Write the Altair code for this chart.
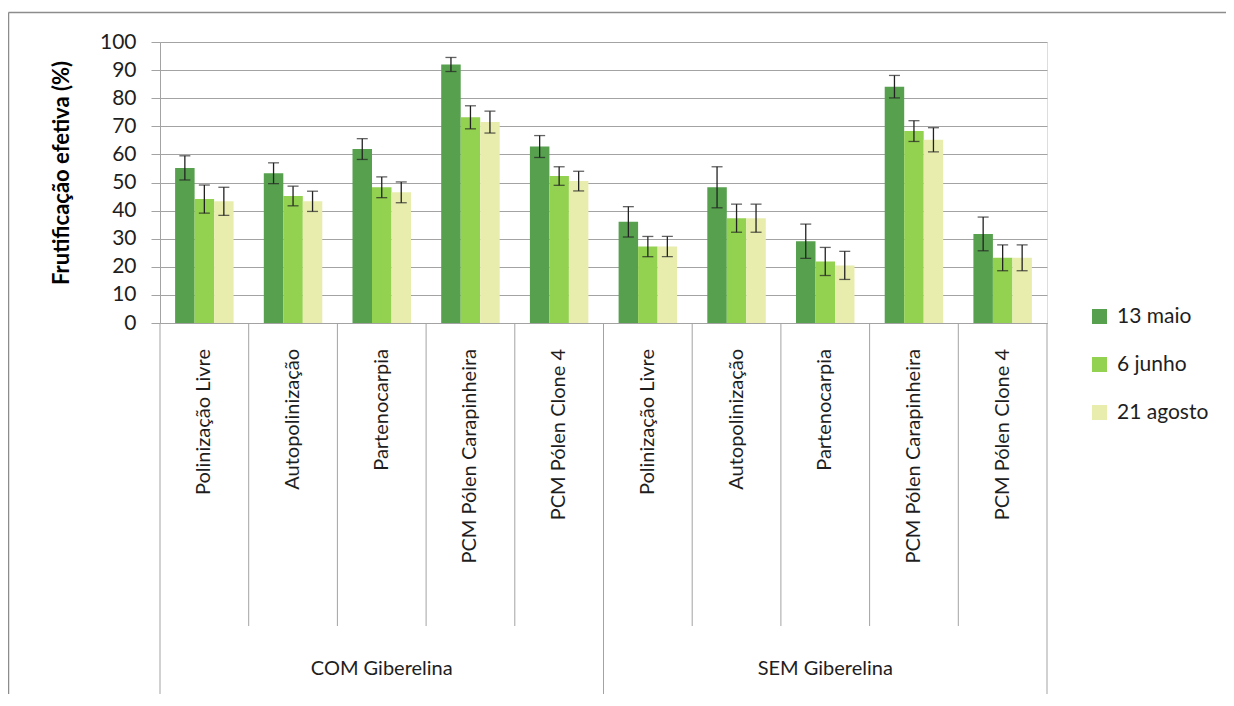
import altair as alt
import pandas as pd

# ---- data ----
grupos = ["COM Giberelina"] * 5 + ["SEM Giberelina"] * 5
tratamentos = ["Polinização Livre", "Autopolinização", "Partenocarpia",
               "PCM Pólen Carapinheira", "PCM Pólen Clone 4"] * 2
series = ["13 maio", "6 junho", "21 agosto"]
maio = [55.2, 53.3, 61.9, 92.0, 62.8, 36.0, 48.3, 29.1, 84.1, 31.7]
junho = [44.1, 45.2, 48.3, 73.2, 52.3, 27.2, 37.3, 21.9, 68.3, 23.2]
agosto = [43.3, 43.3, 46.5, 71.5, 50.5, 27.2, 37.3, 20.5, 65.2, 23.2]
err_maio = [4.3, 3.7, 3.7, 2.5, 3.9, 5.4, 7.3, 6.1, 4.0, 6.0]
err_junho = [5.0, 3.5, 3.7, 4.1, 3.3, 3.6, 5.0, 5.0, 3.7, 4.6]
err_agosto = [5.0, 3.6, 3.7, 3.9, 3.5, 3.6, 5.0, 5.0, 4.3, 4.6]
yticks = list(range(0, 101, 10))
cores = ["#56A04E", "#93D150", "#E8EDAE"]

FONT = "Lato"
GRID = "#A3A3A3"
TXT = "#1e1e1e"

keys = [g + "|" + t for g, t in zip(grupos, tratamentos)]

rows = []
for s, vals, errs in zip(series, [maio, junho, agosto], [err_maio, err_junho, err_agosto]):
    for k, g, t, v, e in zip(keys, grupos, tratamentos, vals, errs):
        rows.append({"key": k, "grupo": g, "trat": t, "serie": s, "valor": v,
                     "lo": v - e, "hi": v + e})
df = pd.DataFrame(rows)
cats = pd.DataFrame({"key": keys, "grupo": grupos, "trat": tratamentos})

W, H = 887, 281
PAD = {"left": 152, "top": 34, "right": 179, "bottom": 371}

xscale = alt.Scale(domain=keys, paddingInner=0, paddingOuter=0)
xaxis = alt.Axis(labels=False, ticks=False, title=None, domainColor=GRID, domainWidth=1)
xoff = alt.XOffset("serie:N", scale=alt.Scale(domain=series, paddingInner=0, paddingOuter=0.775))
X = alt.X("key:N", scale=xscale, axis=xaxis)
yscale = alt.Scale(domain=[0, 100], nice=False)
yaxis = alt.Axis(values=yticks, title=None, grid=True, labelOverlap=False,
                 gridColor=GRID, gridWidth=1, domainColor=GRID, tickColor=GRID,
                 tickSize=9, labelPadding=15, labelFontSize=21, labelFont=FONT,
                 labelColor=TXT)

bars = alt.Chart(df).mark_bar().encode(
    x=X,
    xOffset=xoff,
    y=alt.Y("valor:Q", scale=yscale, axis=yaxis),
    color=alt.Color("serie:N", scale=alt.Scale(domain=series, range=cores),
                    legend=alt.Legend(title=None, orient="none", legendX=929, legendY=264,
                                      symbolType="square", symbolSize=225, symbolStrokeWidth=0,
                                      labelFontSize=21, labelFont=FONT, labelColor=TXT,
                                      rowPadding=26, labelOffset=7)),
)

err = alt.Chart(df).mark_rule(color="#222222", strokeWidth=1.3).encode(
    x=X, xOffset=xoff,
    y=alt.Y("lo:Q", scale=yscale, axis=yaxis), y2="hi:Q",
)

caps = alt.Chart(df).transform_fold(["lo", "hi"], as_=["lado", "v"]).mark_tick(
    color="#222222", thickness=1.3, size=11, orient="horizontal"
).encode(
    x=X, xOffset=xoff,
    y=alt.Y("v:Q", scale=yscale, axis=yaxis),
)

labels = alt.Chart(cats).mark_text(
    angle=270, align="right", baseline="middle", fontSize=20, font=FONT, color=TXT
).encode(
    x=X,
    y=alt.value(307),
    text="trat:N",
)

inner = cats[cats["trat"] != tratamentos[0]]
sep_inner = alt.Chart(inner).mark_rule(color=GRID, strokeWidth=1).encode(
    x=alt.X("key:N", scale=xscale, axis=xaxis, bandPosition=0),
    y=alt.value(H), y2=alt.value(584),
)
firsts = cats[cats["trat"] == tratamentos[0]]
sep_grp = alt.Chart(firsts).mark_rule(color=GRID, strokeWidth=1).encode(
    x=alt.X("key:N", scale=xscale, axis=xaxis, bandPosition=0),
    y=alt.value(H), y2=alt.value(700),
)
last = cats.tail(1)
sep_end = alt.Chart(last).mark_rule(color=GRID, strokeWidth=1).encode(
    x=alt.X("key:N", scale=xscale, axis=xaxis, bandPosition=1),
    y=alt.value(H), y2=alt.value(700),
)

mids = cats[cats["trat"] == tratamentos[2]]
grp_labels = alt.Chart(mids).mark_text(
    baseline="middle", fontSize=20, font=FONT, color=TXT
).encode(
    x=X,
    y=alt.value(627),
    text="grupo:N",
)

ytitle = alt.Chart(pd.DataFrame({"t": ["Frutificação efetiva (%)"]})).mark_text(
    angle=270, baseline="middle", align="center", fontSize=22, fontWeight="bold",
    font=FONT, color="#000000"
).encode(x=alt.value(-98), y=alt.value(131), text="t:N")

one = pd.DataFrame({"a": [0]})
right_edge = W + PAD["right"]
border_top = alt.Chart(one).mark_rule(color="#8C8C8C", strokeWidth=1.5).encode(
    x=alt.value(-151.5), x2=alt.value(right_edge), y=alt.value(-29.5))
border_left = alt.Chart(one).mark_rule(color="#8C8C8C", strokeWidth=1.5).encode(
    x=alt.value(-151.5), y=alt.value(-29.5), y2=alt.value(H + PAD["bottom"]))

chart = alt.layer(
    border_top, border_left, bars, err, caps, labels, sep_inner, sep_grp, sep_end,
    grp_labels, ytitle
).properties(
    width=W, height=H,
    autosize=alt.AutoSizeParams(type="none"),
    padding=PAD,
).configure_view(stroke=None).configure(background="white")

chart.save("out.html", embed_options={"renderer": "svg", "actions": False})
